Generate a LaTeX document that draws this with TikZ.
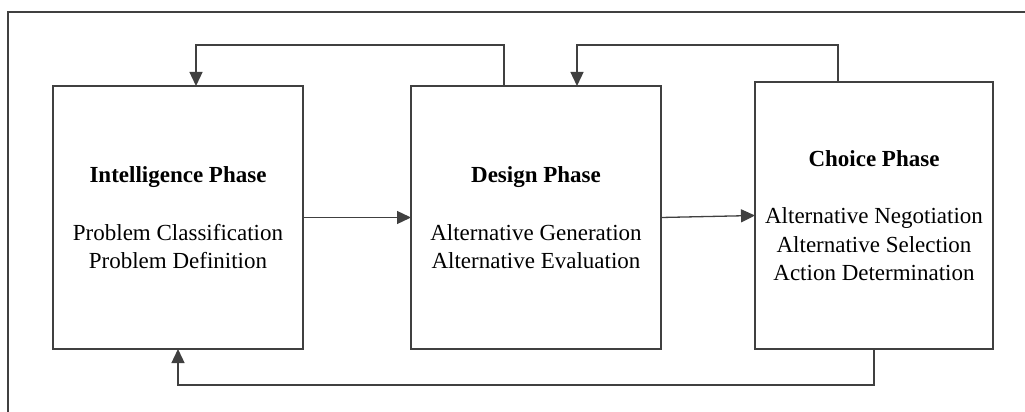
\documentclass[tikz,border=0pt]{standalone}
\usepackage{fontspec}
\setmainfont{Liberation Serif}
\usetikzlibrary{arrows.meta}
\definecolor{linecol}{gray}{0.25}
\begin{document}
\begin{tikzpicture}[x=1pt,y=-1pt,
  phasebox/.style={draw=linecol, line width=1.3pt, inner sep=0pt, outer sep=0pt},
  title/.style={anchor=base, inner sep=0pt, font=\fontsize{23}{28}\selectfont\bfseries},
  item/.style={anchor=base, inner sep=0pt, font=\fontsize{23}{28}\selectfont},
  conn/.style={draw=linecol, line width=1.3pt, -{Triangle[length=14pt,width=13pt]}}]
\useasboundingbox (0,0) rectangle (1025,412);

% outer frame (only top and left edges visible)
\draw[linecol, line width=1.3pt] (1025,12) -- (8,12) -- (8,412);

% phase boxes
\node[phasebox, minimum width=250pt, minimum height=263pt] (b1) at (178,217.5) {};
\node[phasebox, minimum width=250pt, minimum height=263pt] (b2) at (536,217.5) {};
\node[phasebox, minimum width=238pt, minimum height=267pt] (b3) at (874,215.5) {};

% box texts
\node[title] (t1) at (178,182) {Intelligence Phase};
\node[item]  (t1a) at (178,240) {Problem Classification};
\node[item]  (t1b) at (178,268) {Problem Definition};

\node[title] (t2) at (536,182) {Design Phase};
\node[item]  (t2a) at (536,240) {Alternative Generation};
\node[item]  (t2b) at (536,268) {Alternative Evaluation};

\node[title] (t3) at (874,166) {Choice Phase};
\node[item]  (t3a) at (874,223) {Alternative Negotiation};
\node[item]  (t3b) at (874,252) {Alternative Selection};
\node[item]  (t3c) at (874,280) {Action Determination};

% forward flow
\draw[conn] (b1.east) -- (b2.west);
\draw[conn] (b2.east) -- (b3.west);

% feedback loops
\draw[conn] ([xshift=-32pt]b2.north) -- ++(0,-41) -| ([xshift=18pt]b1.north);
\draw[conn] ([xshift=-36pt]b3.north) -- ++(0,-37) -| ([xshift=41pt]b2.north);
\draw[conn] (b3.south) -- ++(0,36) -| (b1.south);
\end{tikzpicture}
\end{document}
